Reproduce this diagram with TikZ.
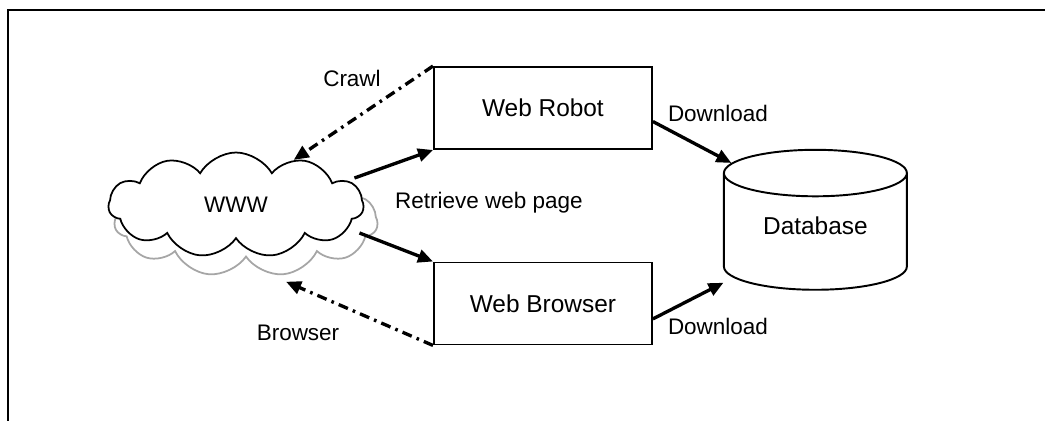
\documentclass[tikz,border=0pt]{standalone}
\usepackage{fontspec}
\setmainfont{Liberation Sans}
\usetikzlibrary{shapes.geometric,shapes.symbols,arrows.meta,positioning}

\begin{document}
\begin{tikzpicture}[x=0.02cm,y=-0.02cm,font=\fontsize{12.8}{15}\selectfont,
    >={Triangle[length=0.3cm,width=0.26cm]},
    box/.style={rectangle,draw,line width=1.1pt,minimum width=4.36cm,minimum height=1.64cm,inner sep=0pt,font=\fontsize{13.9}{16}\selectfont},
    puff/.style={cloud,cloud puffs=11,cloud puff arc=120,cloud ignores aspect,draw,fill=white,line width=1pt,minimum width=5.1cm,minimum height=2.1cm},
    flow/.style={->,line width=1.9pt},
    back/.style={->,line width=1.9pt,dash pattern=on 5.7pt off 3pt on 1.5pt off 3pt},
    every node/.append style={on grid}]
    \useasboundingbox (0,0) rectangle (1045,421);
    \draw [line width=1.2pt] (1045,10) -- (8,10) -- (8,421);
    \node [puff,draw=gray!70,minimum width=5.26cm,minimum height=2.18cm] (wwwback) at (246,222) {};
    \node [puff,above left=0.34cm and 0.2cm of wwwback] (www) {WWW};
    \node [box,above right=1.94cm and 6.14cm of www] (robot) {Web Robot};
    \node [box,below=3.91cm of robot] (browser) {Web Browser};
    \node [cylinder,shape border rotate=90,draw,line width=1.1pt,aspect=0.4,minimum width=3.66cm,minimum height=2.8cm,text depth=0.4cm,font=\fontsize{13.9}{16}\selectfont,below right=2.56cm and 5.45cm of robot] (db) {Database};
    \draw [back] (robot.north west) -- (www.38);
    \draw [flow] ([xshift=-0.2cm,yshift=0.54cm]www.east) -- (robot.south west);
    \draw [flow] ([xshift=-0.1cm,yshift=-0.56cm]www.east) -- (browser.north west);
    \draw [back,shorten >=0.5cm] (browser.south west) -- (wwwback.-71);
    \draw [flow] (robot.-7) -- (db.139);
    \draw [flow] (browser.-8) -- ([xshift=-0.2cm,yshift=-0.1cm]db.207);
    \node (crawl) at (352,78) {Crawl};
    \node (retrieve) at (489,203) {Retrieve web page};
    \node (browse) at (298,333) {Browser};
    \node (dlrobot) at (718,113) {Download};
    \node (dlbrowser) at (718,326) {Download};
\end{tikzpicture}
\end{document}
